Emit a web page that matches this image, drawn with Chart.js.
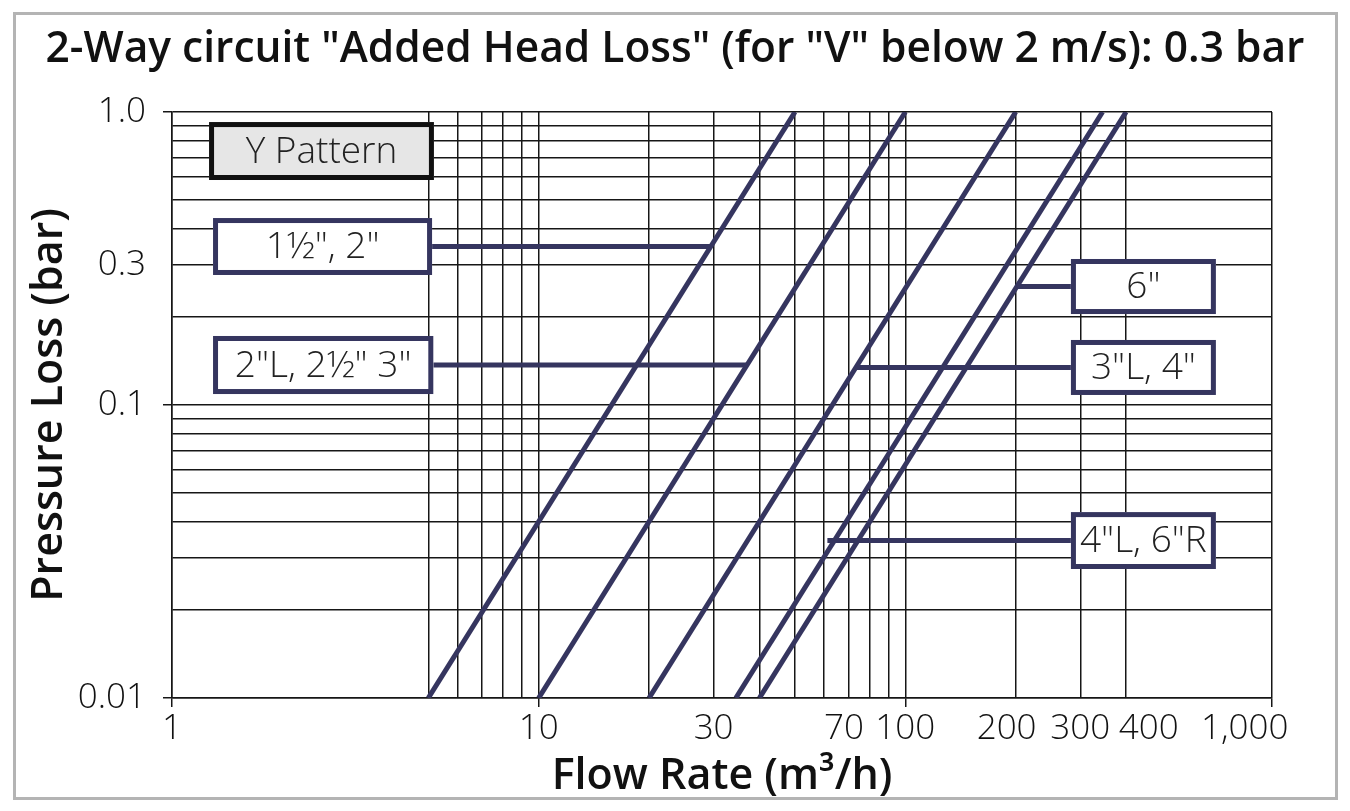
<!DOCTYPE html>
<html>
<head>
<meta charset="utf-8">
<title>Added Head Loss</title>
<script src="https://cdn.jsdelivr.net/npm/chart.js@4.4.1/dist/chart.umd.min.js"></script>
<style>
  html, body { margin: 0; padding: 0; background: #fff; }
  #wrap { position: relative; width: 1350px; height: 811px; }
  #frame { position: absolute; left: 13px; top: 12px; width: 1319px; height: 782px;
           border: 3px solid #b4b4b4; pointer-events: none; }
</style>
</head>
<body>
<div id="wrap">
  <canvas id="chart" width="1350" height="811"></canvas>
  <div id="frame"></div>
</div>
<script>
// ---- data ----
const chartTitle = '2-Way circuit "Added Head Loss" (for "V" below 2 m/s): 0.3 bar';
const seriesNames = ['1½", 2"', '2"L, 2½" 3"', '3"L, 4"', '4"L, 6"R', '6"'];
const lossPoints = [0.01, 1.0];                  // bar, where each line enters / leaves
const flowAtLow = [5, 10, 20, 34.5, 40];         // m3/h at 0.01 bar
const flowAtHigh = [50, 100, 200, 345, 400];     // m3/h at 1.0 bar

const xGridValues = [1, 5, 6, 7, 8, 9, 10, 20, 30, 40, 50, 60, 70, 80, 90, 100, 200, 300, 400, 1000];
const xLabelValues = [1, 10, 30, 70, 100, 200, 300, 400, 1000];
const xLabelTexts = ['1', '10', '30', '70', '100', '200', '300', '400', '1,000'];
const xTickMarks = [1, 10, 100, 1000];

const yGridValues = [0.01, 0.02, 0.03, 0.04, 0.05, 0.06, 0.07, 0.08, 0.09,
                     0.1, 0.2, 0.3, 0.4, 0.5, 0.6, 0.7, 0.8, 0.9, 1];
const yLabelValues = [0.01, 0.1, 0.3, 1];
const yLabelTexts = ['0.01', '0.1', '0.3', '1.0'];
const yTickMarks = [0.01, 0.1, 1];

// label boxes, edges given in axis units (flow, loss)
const callouts = [
  { text: 'Y Pattern', x: [1.262, 5.18], y: [0.924, 0.586], header: true },
  { text: seriesNames[0], x: [1.294, 5.12], y: [0.4346, 0.2778], series: 0 },
  { text: seriesNames[1], x: [1.294, 5.16], y: [0.172, 0.109], series: 1 },
  { text: seriesNames[4], x: [282.9, 703], y: [0.315, 0.2044], series: 4 },
  { text: seriesNames[2], x: [282.9, 703], y: [0.1667, 0.1082], series: 2 },
  { text: seriesNames[3], x: [282.9, 703], y: [0.0431, 0.02756], series: 3, overshoot: 7 }
];

// spaces used to nudge a few crowded x labels like the original
const xLabelNudge = { 70: -1, 200: -2, 400: 5, 1000: -6 };

const NAVY = '#35355f';
const INK = '#161616';
const FAMILY = "'Open Sans', sans-serif";

const same = (a, b) => Math.abs(Math.log10(a / b)) < 1e-6;
const idxOf = (list, v) => list.findIndex(t => same(t, v));

const datasets = seriesNames.map((name, i) => ({
  label: name,
  data: [{ x: flowAtLow[i], y: lossPoints[0] }, { x: flowAtHigh[i], y: lossPoints[1] }],
  borderColor: NAVY,
  borderWidth: 5,
  pointRadius: 0,
  fill: false,
  clip: 0
}));

const calloutPlugin = {
  id: 'callouts',
  afterDatasetsDraw(chart) {
    const { ctx, scales: { x, y } } = chart;
    ctx.save();
    callouts.forEach(c => {
      const l = x.getPixelForValue(c.x[0]), r = x.getPixelForValue(c.x[1]);
      const t = y.getPixelForValue(c.y[0]), b = y.getPixelForValue(c.y[1]);
      const midY = (t + b) / 2;
      // connector to the matching line
      if (c.series !== undefined) {
        const pts = chart.getDatasetMeta(c.series).data;
        const p0 = pts[0], p1 = pts[1];
        let lx = p0.x + (midY - p0.y) * (p1.x - p0.x) / (p1.y - p0.y);
        const boxOnRight = lx < l;
        const fromX = boxOnRight ? l : r;
        if (c.overshoot) lx += boxOnRight ? -c.overshoot : c.overshoot;
        ctx.beginPath();
        ctx.strokeStyle = NAVY;
        ctx.lineWidth = 5;
        ctx.lineCap = 'butt';
        ctx.moveTo(fromX, midY);
        ctx.lineTo(lx, midY);
        ctx.stroke();
      }
      const bw = 5;
      ctx.fillStyle = c.header ? '#e6e6e6' : '#ffffff';
      ctx.fillRect(l, t, r - l, b - t);
      ctx.strokeStyle = c.header ? '#111111' : NAVY;
      ctx.lineWidth = bw;
      ctx.strokeRect(l + bw / 2, t + bw / 2, r - l - bw, b - t - bw);
      ctx.fillStyle = '#222';
      ctx.font = '300 37px ' + FAMILY;
      ctx.textAlign = 'center';
      ctx.textBaseline = 'middle';
      ctx.fillText(c.text, (l + r) / 2, midY + 1);
    });
    ctx.restore();
  }
};

new Chart(document.getElementById('chart'), {
  type: 'line',
  data: { datasets },
  plugins: [calloutPlugin],
  options: {
    responsive: false,
    animation: false,
    devicePixelRatio: 1,
    layout: { padding: 0 },
    plugins: {
      legend: { display: false },
      tooltip: { enabled: false },
      title: {
        display: true,
        text: chartTitle,
        color: '#111',
        font: { family: FAMILY, size: 42.5, weight: '600', lineHeight: 1.2 },
        padding: { top: 24, bottom: 37 }
      }
    },
    scales: {
      x: {
        type: 'logarithmic',
        min: 1,
        max: 1000,
        afterBuildTicks: s => { s.ticks = xGridValues.map(v => ({ value: v })); },
        afterFit: s => { s.height = 113; },
        ticks: {
          autoSkip: false,
          maxRotation: 0,
          padding: 1,
          color: '#111',
          font: { family: FAMILY, size: 35, weight: '300', lineHeight: 1.2 },
          callback: v => {
            const i = idxOf(xLabelValues, v);
            if (i < 0) return '';
            const n = Object.keys(xLabelNudge).find(k => same(+k, v));
            const s = n ? xLabelNudge[n] : 0;
            return s > 0 ? ' '.repeat(s) + xLabelTexts[i]
                         : xLabelTexts[i] + ' '.repeat(-s);
          }
        },
        grid: {
          color: INK,
          lineWidth: 1.5,
          tickLength: 9,
          tickColor: c => (c.tick && idxOf(xTickMarks, c.tick.value) >= 0) ? INK : 'rgba(0,0,0,0)'
        },
        border: { display: true, color: INK, width: 1.5 },
        title: {
          display: true,
          text: 'Flow Rate (m³/h)',
          color: '#111',
          font: { family: FAMILY, size: 43, weight: '600', lineHeight: 1.2 },
          padding: { top: 0, bottom: 8 }
        }
      },
      y: {
        type: 'logarithmic',
        min: 0.01,
        max: 1,
        afterBuildTicks: s => { s.ticks = yGridValues.map(v => ({ value: v })); },
        afterFit: s => { s.width = 172; },
        ticks: {
          autoSkip: false,
          padding: 17,
          color: '#111',
          font: { family: FAMILY, size: 35, weight: '300', lineHeight: 1.2 },
          callback: v => {
            const i = idxOf(yLabelValues, v);
            return i < 0 ? '' : yLabelTexts[i];
          }
        },
        grid: {
          color: INK,
          lineWidth: 1.5,
          tickLength: 9,
          tickColor: c => (c.tick && idxOf(yTickMarks, c.tick.value) >= 0) ? INK : 'rgba(0,0,0,0)'
        },
        border: { display: true, color: INK, width: 1.5 },
        title: {
          display: true,
          text: 'Pressure Loss (bar)',
          color: '#111',
          font: { family: FAMILY, size: 43, weight: '600', lineHeight: 1.2 },
          padding: { top: 24, bottom: 0 }
        }
      },
      // empty margin on the right side of the plot
      yRight: {
        type: 'linear',
        position: 'right',
        display: true,
        min: 0,
        max: 1,
        ticks: { display: false },
        grid: { display: false, drawTicks: false },
        border: { display: false },
        afterFit: s => { s.width = 78; }
      }
    }
  }
});
</script>
</body>
</html>
